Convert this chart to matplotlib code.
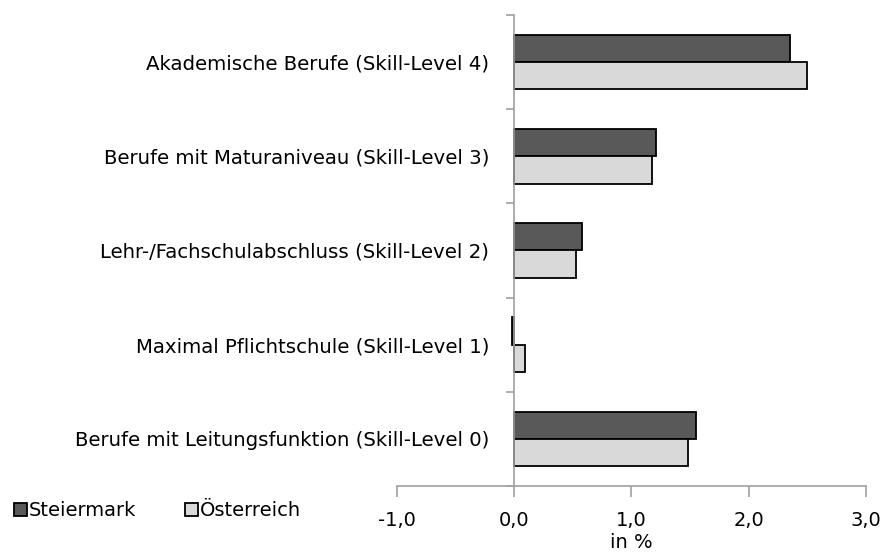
import matplotlib.pyplot as plt
import numpy as np

categories = [
    "Akademische Berufe (Skill-Level 4)",
    "Berufe mit Maturaniveau (Skill-Level 3)",
    "Lehr-/Fachschulabschluss (Skill-Level 2)",
    "Maximal Pflichtschule (Skill-Level 1)",
    "Berufe mit Leitungsfunktion (Skill-Level 0)",
]
steiermark = [2.35, 1.21, 0.58, -0.02, 1.55]
oesterreich = [2.50, 1.175, 0.53, 0.09, 1.485]
xticks = [-1.0, 0.0, 1.0, 2.0, 3.0]

plt.rcParams['font.family'] = ['DejaVu Sans']

fig = plt.figure(figsize=(8.85, 5.53), dpi=100)
ax = fig.add_axes([0.4486, 0.1212, 0.5299, 0.8517])

y = np.arange(len(categories))
h = 0.29
ax.barh(y - h / 2, steiermark, height=h, color='#595959', edgecolor='black', linewidth=1.3, label='Steiermark')
ax.barh(y + h / 2, oesterreich, height=h, color='#d9d9d9', edgecolor='black', linewidth=1.3, label='Österreich')

ax.set_xlim(-1, 3)
ax.set_ylim(len(categories) - 0.5, -0.5)

axis_grey = '#a0a0a0'
for s in ['top', 'right']:
    ax.spines[s].set_visible(False)
ax.spines['left'].set_position(('data', 0))
ax.spines['left'].set_color(axis_grey)
ax.spines['bottom'].set_color(axis_grey)
ax.spines['left'].set_linewidth(1.2)
ax.spines['bottom'].set_linewidth(1.2)

ax.set_xticks(xticks)
ax.set_xticklabels([f"{v:.1f}".replace('.', ',') for v in xticks], fontsize=14)
ax.tick_params(axis='x', length=8, width=1.2, color=axis_grey, pad=10)

ax.set_yticks(np.arange(len(categories) + 1) - 0.5)
ax.set_yticklabels([])
ax.tick_params(axis='y', which='major', length=6, width=1.2, color=axis_grey)
ax.set_yticks(y, minor=True)
ax.set_yticklabels(categories, minor=True, fontsize=14.2)
ax.tick_params(axis='y', which='minor', length=0, pad=18)

ax.set_xlabel('in %', fontsize=14, labelpad=2)

fig.legend(loc='lower left', bbox_to_anchor=(0.0, 0.035), ncol=2, frameon=False,
           fontsize=14, handlelength=0.68, handleheight=0.68, handletextpad=0.1,
           columnspacing=2.5, borderaxespad=0.3)

fig.savefig('out.png', dpi=100)
